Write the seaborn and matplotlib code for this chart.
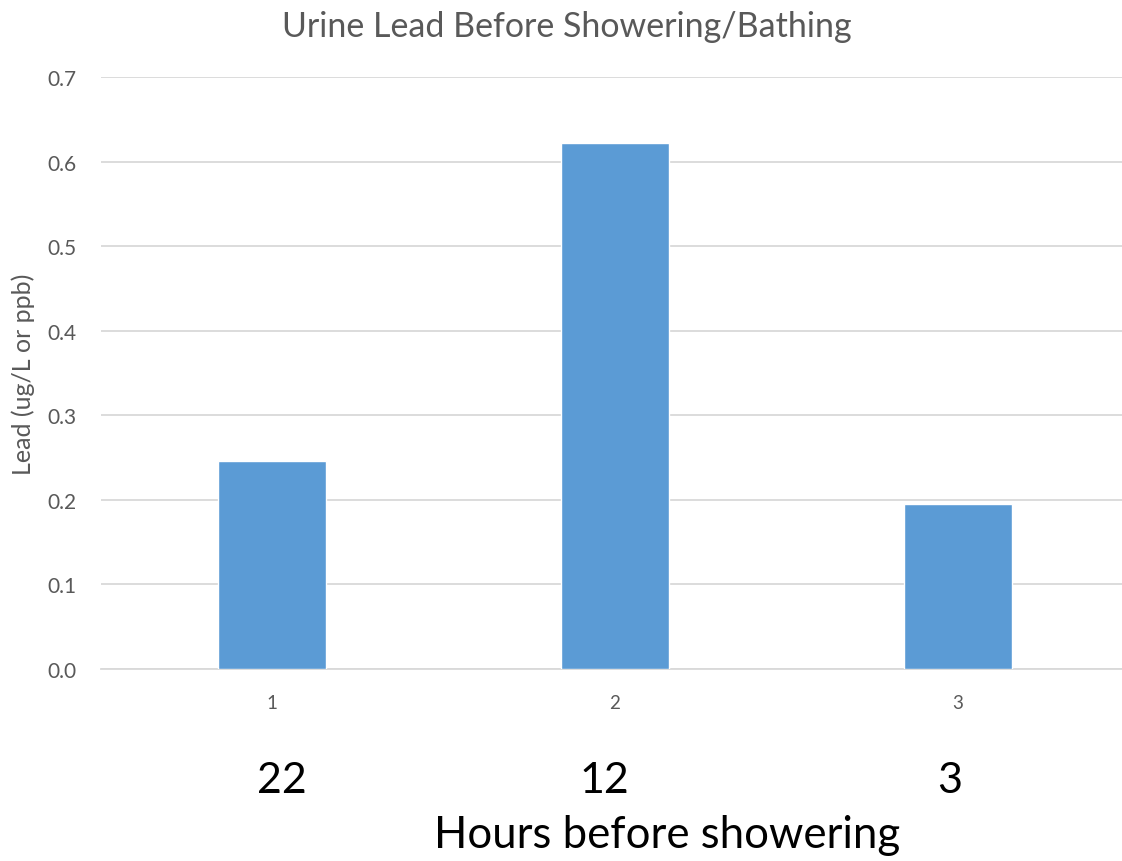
import matplotlib
matplotlib.use("Agg")
import matplotlib.pyplot as plt
import seaborn as sns
import pandas as pd

# Data
categories = ["1", "2", "3"]
lead_values = [0.246, 0.622, 0.195]
hours_labels = ["22", "12", "3"]
title = "Urine Lead Before Showering/Bathing"
ylabel = "Lead (ug/L or ppb)"
xlabel = "Hours before showering"
yticks = [0.0, 0.1, 0.2, 0.3, 0.4, 0.5, 0.6, 0.7]

sns.set_theme(style="white")
plt.rcParams["font.family"] = ["Lato", "DejaVu Sans"]

df = pd.DataFrame({"cat": categories, "lead": lead_values})

W, H = 1122, 862
fig = plt.figure(figsize=(W / 100, H / 100), dpi=100)
left, right = 100.5, 1129.5
bottom, top = 670, 78
ax = fig.add_axes([left / W, 1 - bottom / H, (right - left) / W, (bottom - top) / H])

sns.barplot(data=df, x="cat", y="lead", color="#5B9BD5", saturation=1,
            width=0.315, ax=ax, zorder=3)

ax.set_ylim(0, 0.7)
ax.set_xlim(-0.5, 2.5)
ax.set_yticks(yticks)
ax.set_yticklabels([f"{v:.1f}" for v in yticks])
ax.grid(axis="y", color="#D9D9D9", linewidth=1.3, zorder=0)
ax.grid(axis="x", visible=False)
for s in ["top", "right", "left"]:
    ax.spines[s].set_visible(False)
ax.spines["bottom"].set_color("#D9D9D9")
ax.spines["bottom"].set_linewidth(1.3)
ax.tick_params(axis="both", length=0)
ax.tick_params(axis="y", labelsize=15, labelcolor="#595959", pad=17)
ax.tick_params(axis="x", labelsize=13.5, labelcolor="#595959", pad=18)
ax.set_xlabel("")
ax.set_ylabel(ylabel, fontsize=18, color="#595959")
ax.yaxis.set_label_coords(-(100.5 - 35) / (right - left), 0.5)

fig.text(567 / W, 1 - 27 / H, title, ha="center", va="center",
         fontsize=24.5, color="#595959")

hour_x = [282, 604, 950]
for xp, lab in zip(hour_x, hours_labels):
    fig.text(xp / W, 1 - 781 / H, lab, ha="center", va="center",
             fontsize=31, color="black")
fig.text(667 / W, 1 - 836 / H, xlabel, ha="center", va="center",
         fontsize=31.5, color="black")

fig.savefig("out.png", dpi=100, facecolor="white")
